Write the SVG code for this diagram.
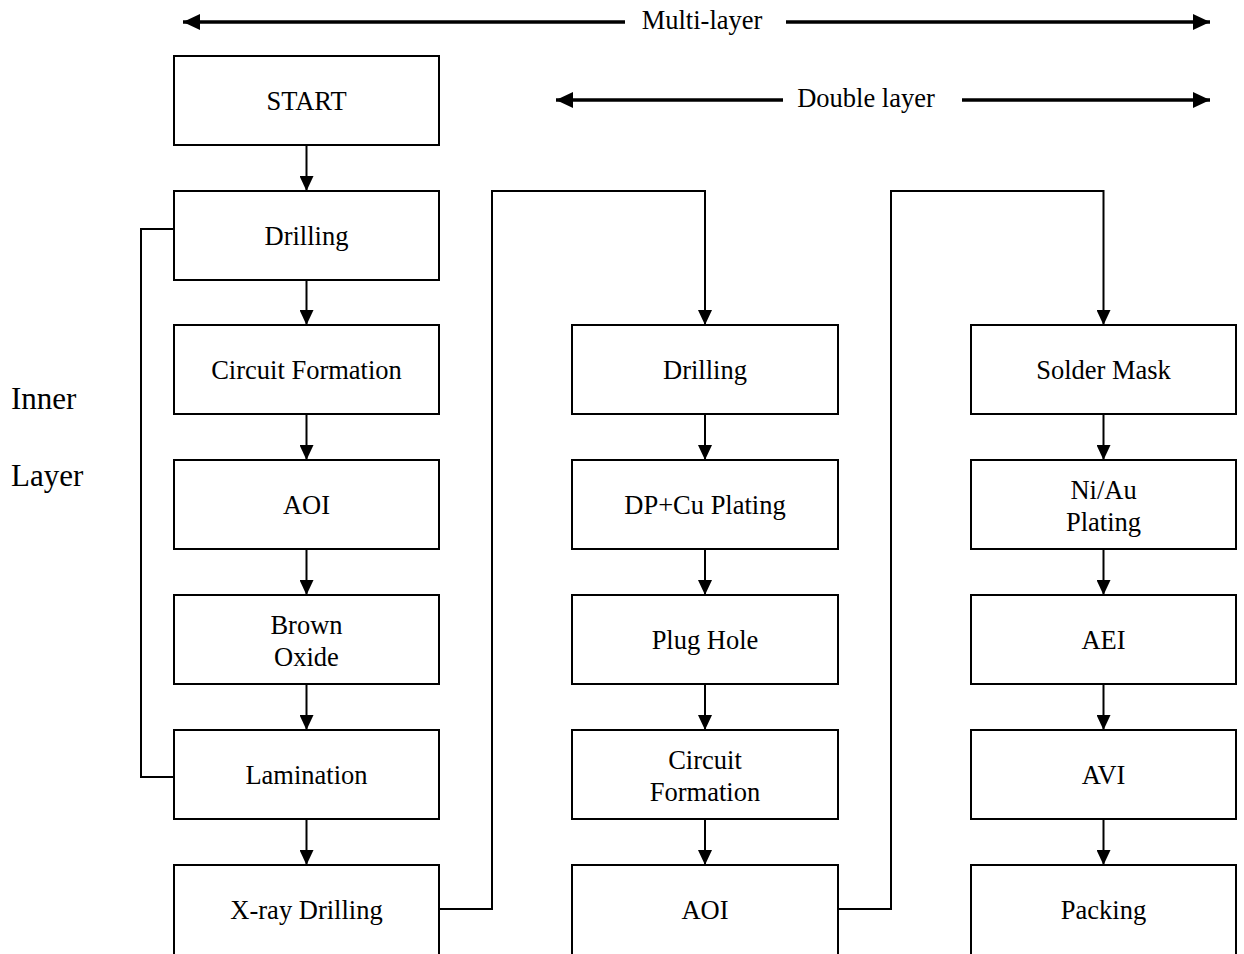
<svg xmlns="http://www.w3.org/2000/svg" width="1244" height="954" viewBox="0 0 1244 954">
<defs>
<marker id="ah" viewBox="0 0 15 14" refX="15" refY="7" markerWidth="15" markerHeight="14" markerUnits="userSpaceOnUse" orient="auto-start-reverse"><path d="M0,0 L15,7 L0,14 z" fill="#000"/></marker>
<marker id="bh" viewBox="0 0 17 16" refX="17" refY="8" markerWidth="17" markerHeight="16" markerUnits="userSpaceOnUse" orient="auto-start-reverse"><path d="M0,0 L17,8 L0,16 z" fill="#000"/></marker>
</defs>
<style>
.box{fill:#fff;stroke:#000;stroke-width:2}
.t{font-family:"Liberation Serif","Times New Roman",serif;font-size:26.5px;fill:#000;text-anchor:middle;dominant-baseline:central}
.side{font-family:"Liberation Serif","Times New Roman",serif;font-size:31px;fill:#000}
.c{fill:none;stroke:#000;stroke-width:2}
.span{fill:none;stroke:#000;stroke-width:3.5}
</style>
<rect width="1244" height="954" fill="#fff"/>

<g id="spans">
<line class="span" x1="183" y1="22" x2="625" y2="22" marker-start="url(#bh)"/>
<line class="span" x1="786" y1="22" x2="1210" y2="22" marker-end="url(#bh)"/>
<text class="t" x="702" y="20">Multi-layer</text>
<line class="span" x1="556" y1="100" x2="783" y2="100" marker-start="url(#bh)"/>
<line class="span" x1="962" y1="100" x2="1210" y2="100" marker-end="url(#bh)"/>
<text class="t" x="866" y="98">Double layer</text>
</g>

<g id="inner-layer-label">
<text class="side" x="11" y="409">Inner</text>
<text class="side" x="11" y="486">Layer</text>
</g>

<g id="connectors">
<line class="c" x1="306.5" y1="145" x2="306.5" y2="191" marker-end="url(#ah)"/>
<line class="c" x1="306.5" y1="280" x2="306.5" y2="325" marker-end="url(#ah)"/>
<line class="c" x1="306.5" y1="414" x2="306.5" y2="460" marker-end="url(#ah)"/>
<line class="c" x1="306.5" y1="549" x2="306.5" y2="595" marker-end="url(#ah)"/>
<line class="c" x1="306.5" y1="684" x2="306.5" y2="730" marker-end="url(#ah)"/>
<line class="c" x1="306.5" y1="819" x2="306.5" y2="865" marker-end="url(#ah)"/>
<line class="c" x1="705" y1="414" x2="705" y2="460" marker-end="url(#ah)"/>
<line class="c" x1="705" y1="549" x2="705" y2="595" marker-end="url(#ah)"/>
<line class="c" x1="705" y1="684" x2="705" y2="730" marker-end="url(#ah)"/>
<line class="c" x1="705" y1="819" x2="705" y2="865" marker-end="url(#ah)"/>
<line class="c" x1="1103.5" y1="414" x2="1103.5" y2="460" marker-end="url(#ah)"/>
<line class="c" x1="1103.5" y1="549" x2="1103.5" y2="595" marker-end="url(#ah)"/>
<line class="c" x1="1103.5" y1="684" x2="1103.5" y2="730" marker-end="url(#ah)"/>
<line class="c" x1="1103.5" y1="819" x2="1103.5" y2="865" marker-end="url(#ah)"/>
<path class="c" d="M439,909 H492 V191 H705 V325" marker-end="url(#ah)"/>
<path class="c" d="M838,909 H891 V191 H1103.5 V325" marker-end="url(#ah)"/>
<path class="c" d="M174,229 H141 V777 H174" stroke-width="2.5"/>
</g>

<g id="n-start"><rect class="box" x="174" y="56" width="265" height="89"/><text class="t" x="306.5" y="101">START</text></g>
<g id="n-drilling1"><rect class="box" x="174" y="191" width="265" height="89"/><text class="t" x="306.5" y="236">Drilling</text></g>
<g id="n-circuit1"><rect class="box" x="174" y="325" width="265" height="89"/><text class="t" x="306.5" y="370">Circuit Formation</text></g>
<g id="n-aoi1"><rect class="box" x="174" y="460" width="265" height="89"/><text class="t" x="306.5" y="505">AOI</text></g>
<g id="n-brown"><rect class="box" x="174" y="595" width="265" height="89"/><text class="t" x="306.5" y="624.5">Brown</text><text class="t" x="306.5" y="656.5">Oxide</text></g>
<g id="n-lamination"><rect class="box" x="174" y="730" width="265" height="89"/><text class="t" x="306.5" y="775">Lamination</text></g>
<g id="n-xray"><rect class="box" x="174" y="865" width="265" height="92"/><text class="t" x="306.5" y="909.5">X-ray Drilling</text></g>

<g id="n-drilling2"><rect class="box" x="572" y="325" width="266" height="89"/><text class="t" x="705" y="370">Drilling</text></g>
<g id="n-dpcu"><rect class="box" x="572" y="460" width="266" height="89"/><text class="t" x="705" y="505">DP+Cu Plating</text></g>
<g id="n-plug"><rect class="box" x="572" y="595" width="266" height="89"/><text class="t" x="705" y="640">Plug Hole</text></g>
<g id="n-circuit2"><rect class="box" x="572" y="730" width="266" height="89"/><text class="t" x="705" y="759.5">Circuit</text><text class="t" x="705" y="791.5">Formation</text></g>
<g id="n-aoi2"><rect class="box" x="572" y="865" width="266" height="92"/><text class="t" x="705" y="909.5">AOI</text></g>

<g id="n-solder"><rect class="box" x="971" y="325" width="265" height="89"/><text class="t" x="1103.5" y="370">Solder Mask</text></g>
<g id="n-niau"><rect class="box" x="971" y="460" width="265" height="89"/><text class="t" x="1103.5" y="489.5">Ni/Au</text><text class="t" x="1103.5" y="521.5">Plating</text></g>
<g id="n-aei"><rect class="box" x="971" y="595" width="265" height="89"/><text class="t" x="1103.5" y="640">AEI</text></g>
<g id="n-avi"><rect class="box" x="971" y="730" width="265" height="89"/><text class="t" x="1103.5" y="775">AVI</text></g>
<g id="n-packing"><rect class="box" x="971" y="865" width="265" height="92"/><text class="t" x="1103.5" y="909.5">Packing</text></g>
</svg>
